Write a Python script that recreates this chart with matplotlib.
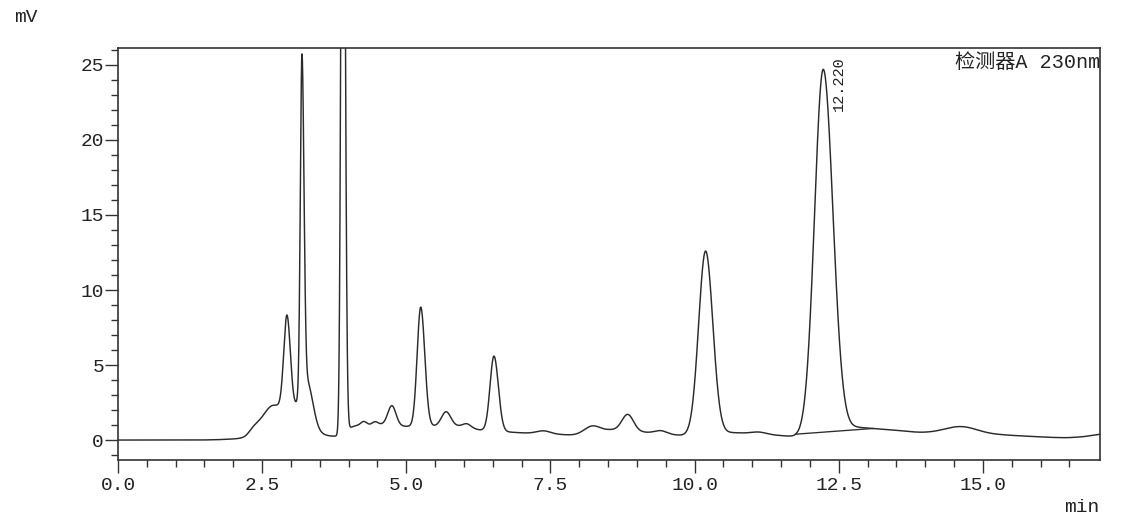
import numpy as np
import matplotlib
matplotlib.use("Agg")
import matplotlib.pyplot as plt
from matplotlib.ticker import MultipleLocator, FixedLocator, FormatStrFormatter

# ---------------- data ----------------
# peak table: retention time (min), height above drift (mV), left / right widths (min)
peak_rt = [2.35, 2.70, 2.93, 3.19, 3.28, 3.90, 4.26, 4.46, 4.75, 5.25, 5.69, 6.05,
           6.52, 7.38, 8.22, 8.84, 9.41, 10.19, 11.12, 12.23, 14.62]
peak_height = [0.35, 2.2, 6.3, 22.3, 3.0, 60.0, 0.25, 0.2, 1.3, 7.95, 0.95, 0.25,
               5.0, 0.2, 0.43, 1.1, 0.2, 12.2, 0.12, 24.2, 0.48]
peak_sigma_left = [0.08, 0.20, 0.055, 0.028, 0.12, 0.030, 0.05, 0.05, 0.07, 0.062, 0.08, 0.07,
                   0.068, 0.12, 0.13, 0.10, 0.10, 0.12, 0.12, 0.150, 0.28]
peak_sigma_right = [0.10, 0.40, 0.060, 0.035, 0.10, 0.035, 0.05, 0.05, 0.07, 0.070, 0.08, 0.07,
                    0.076, 0.12, 0.13, 0.10, 0.10, 0.125, 0.12, 0.168, 0.28]

# slowly varying detector drift (min, mV)
drift_t = [0.0, 1.4, 1.7, 1.95, 2.15, 3.6, 3.85, 4.05, 4.6, 5.0, 5.9, 6.3, 7.0, 7.9, 8.55,
           9.2, 9.8, 10.6, 11.0, 11.75, 12.8, 13.3, 13.9, 14.6, 15.3, 15.8, 16.15, 16.45,
           16.75, 17.1]
drift_mv = [0.0, 0.0, 0.02, 0.06, 0.1, 0.15, 0.2, 0.95, 1.05, 0.9, 0.95, 0.65, 0.48, 0.33,
            0.7, 0.5, 0.3, 0.5, 0.45, 0.22, 0.85, 0.72, 0.5, 0.42, 0.35, 0.25, 0.18, 0.15,
            0.22, 0.45]

labelled_peak_rt = 12.23
labelled_peak_text = "12.220"
integration_baseline_t = [11.75, 13.1]
detector_label = "检测器A 230nm"
x_unit = "min"
y_unit = "mV"

# ---------------- build the trace ----------------
t = np.linspace(0.0, 17.03, 8000)
dt = t[1] - t[0]
drift = np.interp(t, drift_t, drift_mv)
ks = 0.07 / dt
kx = np.arange(-int(4 * ks), int(4 * ks) + 1)
kern = np.exp(-0.5 * (kx / ks) ** 2)
kern /= kern.sum()
pad = len(kx) // 2
drift = np.convolve(np.pad(drift, pad, mode="edge"), kern, mode="valid")

signal = drift.copy()
for rt, h, sl, sr in zip(peak_rt, peak_height, peak_sigma_left, peak_sigma_right):
    s = np.where(t < rt, sl, sr)
    signal += h * np.exp(-0.5 * ((t - rt) / s) ** 2)

# ---------------- figure ----------------
W, H = 1148, 528
fig = plt.figure(figsize=(W / 100, H / 100), dpi=100)
ax = fig.add_axes([118 / W, 1 - 460 / H, (1100 - 118) / W, (460 - 48) / H])

line_col = "#2b2b2b"
txt_col = "#222222"
mono = "Liberation Mono"

ax.plot(t, signal, color=line_col, lw=1.05)
bt = np.array(integration_baseline_t)
ax.plot(bt, np.interp(bt, t, signal), color=line_col, lw=0.95)

ax.set_xlim(0, 17.03)
ax.set_ylim(-1.33, 26.13)

ax.xaxis.set_major_locator(MultipleLocator(2.5))
ax.xaxis.set_major_formatter(FormatStrFormatter("%.1f"))
ax.xaxis.set_minor_locator(FixedLocator(np.arange(0, 16.6, 0.5)))
ax.yaxis.set_major_locator(MultipleLocator(5))
ax.yaxis.set_minor_locator(MultipleLocator(1))

ax.tick_params(which="major", direction="out", length=9.5, width=1.0, color="#333333",
               labelsize=14, labelcolor=txt_col)
ax.tick_params(which="minor", direction="out", length=5, width=1.0, color="#333333")
ax.tick_params(axis="y", pad=0.5)
ax.tick_params(axis="x", pad=2.5)
for lab in ax.get_xticklabels() + ax.get_yticklabels():
    lab.set_fontfamily(mono)

for sp in ax.spines.values():
    sp.set_color("#333333")
    sp.set_linewidth(1.2)

# peak label
i = peak_rt.index(labelled_peak_rt)
ax.text(labelled_peak_rt + 0.27, peak_height[i] - 2.3, labelled_peak_text, rotation=90,
        ha="center", va="bottom", fontsize=11, family=mono, color=txt_col)

ax.text(1.0, 0.966, detector_label, transform=ax.transAxes, ha="right", va="center",
        fontsize=14.5, family=[mono, "Noto Sans CJK SC"], color=txt_col)

fig.text(14 / W, 1 - 17 / H, y_unit, ha="left", va="center", fontsize=14, family=mono,
         color=txt_col)
fig.text(1099 / W, 1 - 508 / H, x_unit, ha="right", va="center", fontsize=14, family=mono,
         color=txt_col)

fig.savefig("out.png", dpi=100, facecolor="white")
